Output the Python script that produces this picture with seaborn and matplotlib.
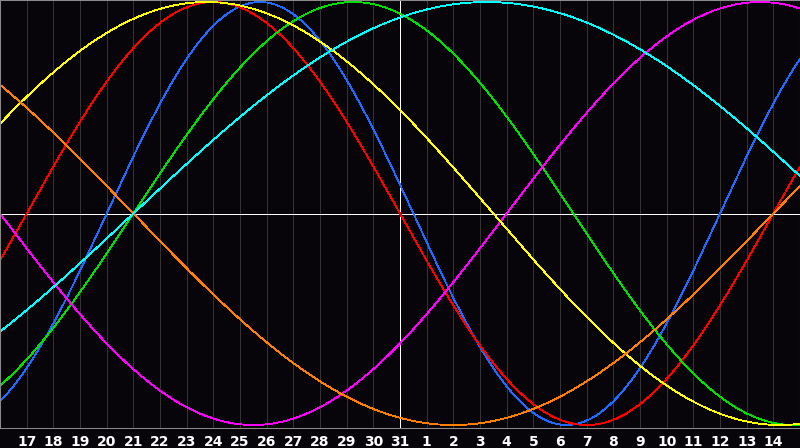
import numpy as np
import pandas as pd
import seaborn as sns
import matplotlib.pyplot as plt

# biorhythm cycles and their length in days
cycles = ["Physical", "Emotional", "Intellectual", "Intuitive",
          "Aesthetic", "Awareness", "Spiritual"]
periods = [23, 28, 33, 38, 43, 48, 53]
# days already run in each cycle on the centre day
phase_today = [11, 14, 10, 34, 18, 34, 10]
colors = ["#1f6bff", "#ff0000", "#00e000", "#ff00ff",
          "#ffff00", "#ff8000", "#00ffff"]

# grid lines: one per day, centre day is the 31st
day_offsets = list(range(-14, 15))
day_labels = [str(d) for d in list(range(17, 32)) + list(range(1, 15))]

# build long table for seaborn
days = np.linspace(-15, 15, 1201)
rows = []
for name, per, ph in zip(cycles, periods, phase_today):
    vals = np.sin(2 * np.pi * (ph + days) / per)
    rows.append(pd.DataFrame({"day": days, "value": vals, "cycle": name}))
bio = pd.concat(rows, ignore_index=True)

bg = "#07050a"
sns.set_theme(style="dark", rc={"axes.facecolor": bg, "figure.facecolor": bg,
                                "axes.edgecolor": "#8a8a8a", "axes.linewidth": 0.75,
                                "lines.antialiased": False})

fig = plt.figure(figsize=(8, 4.48), dpi=100)
ax = fig.add_axes([0, 20 / 448, 1, 428 / 448])

ax.set_xticks(day_offsets)
ax.set_xticklabels(day_labels)
ax.grid(axis="x", color="#333333", lw=0.7)
ax.grid(axis="y", visible=False)
ax.axvline(0, color="white", lw=0.7, zorder=1.5)
ax.axhline(0, color="white", lw=0.7, zorder=1.5)

sns.lineplot(data=bio, x="day", y="value", hue="cycle",
             palette=dict(zip(cycles, colors)), hue_order=cycles,
             estimator=None, sort=False, legend=False, lw=0.6,
             ax=ax, zorder=2)
for ln in ax.get_lines():
    ln.set_antialiased(False)

ax.set_xlim(-15, 15)
ax.set_ylim(-1.014, 1.0095)
ax.set_yticks([])
ax.set_xlabel("")
ax.set_ylabel("")
ax.tick_params(axis="x", length=0, pad=5, colors="white", labelsize=10)
for lab in ax.get_xticklabels():
    lab.set_fontweight("bold")

fig.savefig("out.png", dpi=100, facecolor=bg)
